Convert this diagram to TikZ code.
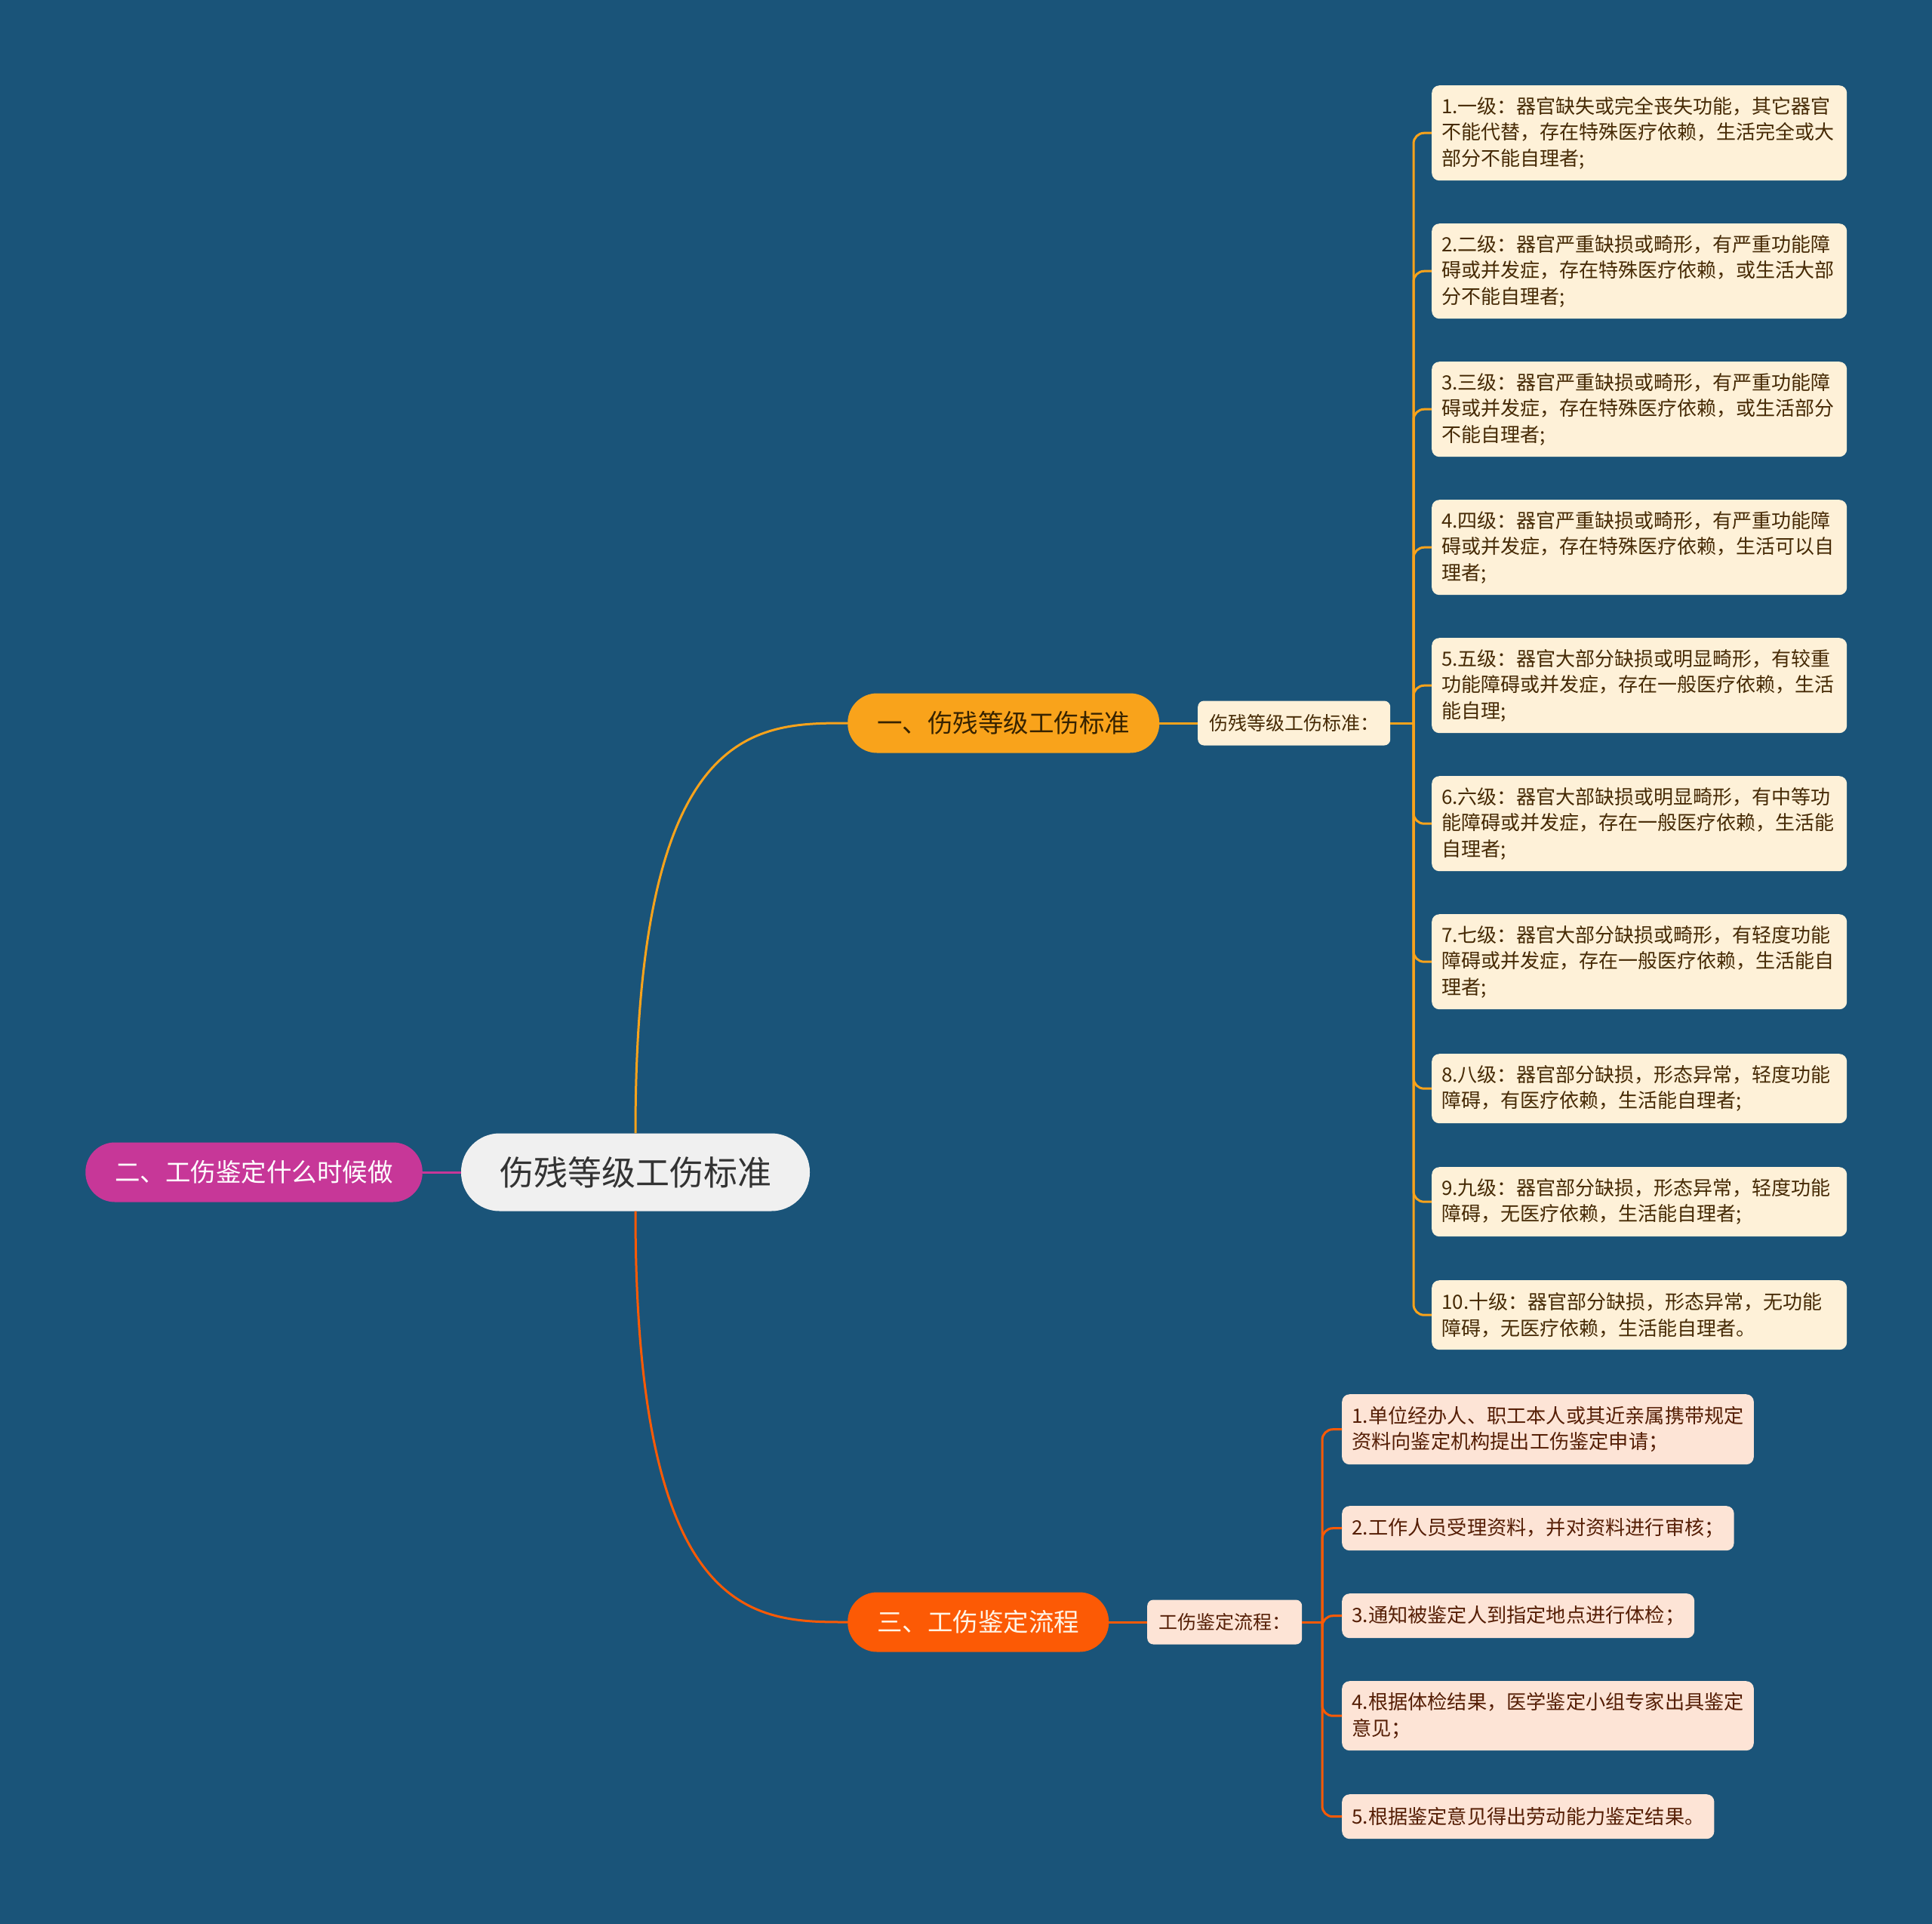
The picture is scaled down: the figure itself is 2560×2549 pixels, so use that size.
\documentclass[tikz,border=0pt]{standalone}
\usepackage{fontspec}
\setmainfont{Noto Sans CJK SC}
\definecolor{bg}{RGB}{26,84,121}
\definecolor{rootfill}{RGB}{240,240,240}
\definecolor{orA}{RGB}{249,163,27}
\definecolor{orB}{RGB}{252,90,5}
\definecolor{mag}{RGB}{199,55,152}
\definecolor{creamA}{RGB}{254,241,216}
\definecolor{peachB}{RGB}{253,228,214}
\definecolor{txtA}{RGB}{70,42,5}
\definecolor{txtB}{RGB}{85,30,5}
\definecolor{txtO}{RGB}{55,35,0}
\begin{document}
\begin{tikzpicture}[x=1pt,y=-1pt,
  rootbox/.style={fill=rootfill, rounded corners=51pt, minimum height=103pt, inner xsep=51pt, inner ysep=0pt, text=black!80, font=\fontsize{45}{54}\selectfont},
  branchbox/.style={rounded corners=39pt, minimum height=79pt, inner xsep=39pt, inner ysep=0pt, font=\fontsize{33.5}{40}\selectfont},
  subbox/.style={rounded corners=8pt, minimum height=59pt, inner xsep=15pt, inner ysep=0pt, anchor=west, font=\fontsize{25}{30}\selectfont},
  leafbox/.style={rounded corners=10pt, inner xsep=13pt, inner ysep=0pt, align=left, anchor=north west, font=\fontsize{26}{34.5}\selectfont},
  leafA/.style={leafbox, fill=creamA, text=txtA, text width=524pt},
  leafB/.style={leafbox, fill=peachB, text=txtB, font=\fontsize{26.2}{34.5}\selectfont},
  conn/.style={line width=3pt},
]
\useasboundingbox (0,0) rectangle (2560,2549);
\fill[bg] (0,0) rectangle (2560,2549);

% root and branches
\node[rootbox] (root) at (842,1553) {伤残等级工伤标准};
\node[branchbox, fill=orA, text=txtO, anchor=west] (b1) at (1123,958) {一、伤残等级工伤标准};
\node[branchbox, fill=mag, text=white, anchor=east] (b2) at (560,1553) {二、工伤鉴定什么时候做};
\node[branchbox, fill=orB, text={rgb,255:red,255;green,244;blue,230}, anchor=west] (b3) at (1123,2149) {三、工伤鉴定流程};

\node[subbox, fill=creamA, text=txtA] (s1) at (1587,958) {伤残等级工伤标准：};
\node[subbox, fill=peachB, text=txtB] (s3) at (1520,2149) {工伤鉴定流程：};

% leaves of branch 1
\node[leafA, minimum height=126pt] (a1) at (1897,113) {1.一级：器官缺失或完全丧失功能，其它器官\\不能代替，存在特殊医疗依赖，生活完全或大\\部分不能自理者;};
\node[leafA, minimum height=126pt] (a2) at (1897,296) {2.二级：器官严重缺损或畸形，有严重功能障\\碍或并发症，存在特殊医疗依赖，或生活大部\\分不能自理者;};
\node[leafA, minimum height=126pt] (a3) at (1897,479) {3.三级：器官严重缺损或畸形，有严重功能障\\碍或并发症，存在特殊医疗依赖，或生活部分\\不能自理者;};
\node[leafA, minimum height=126pt] (a4) at (1897,662) {4.四级：器官严重缺损或畸形，有严重功能障\\碍或并发症，存在特殊医疗依赖，生活可以自\\理者;};
\node[leafA, minimum height=126pt] (a5) at (1897,845) {5.五级：器官大部分缺损或明显畸形，有较重\\功能障碍或并发症，存在一般医疗依赖，生活\\能自理;};
\node[leafA, minimum height=126pt] (a6) at (1897,1028) {6.六级：器官大部缺损或明显畸形，有中等功\\能障碍或并发症，存在一般医疗依赖，生活能\\自理者;};
\node[leafA, minimum height=126pt] (a7) at (1897,1211) {7.七级：器官大部分缺损或畸形，有轻度功能\\障碍或并发症，存在一般医疗依赖，生活能自\\理者;};
\node[leafA, minimum height=92pt] (a8) at (1897,1396) {8.八级：器官部分缺损，形态异常，轻度功能\\障碍，有医疗依赖，生活能自理者;};
\node[leafA, minimum height=92pt] (a9) at (1897,1546) {9.九级：器官部分缺损，形态异常，轻度功能\\障碍，无医疗依赖，生活能自理者;};
\node[leafA, minimum height=92pt] (a10) at (1897,1696) {10.十级：器官部分缺损，形态异常，无功能\\障碍，无医疗依赖，生活能自理者。};

% leaves of branch 3
\node[leafB, minimum height=93pt] (c1) at (1778,1847) {1.单位经办人、职工本人或其近亲属携带规定\\资料向鉴定机构提出工伤鉴定申请；};
\node[leafB, minimum height=59pt] (c2) at (1778,1995) {2.工作人员受理资料，并对资料进行审核；};
\node[leafB, minimum height=59pt] (c3) at (1778,2111) {3.通知被鉴定人到指定地点进行体检；};
\node[leafB, minimum height=92pt] (c4) at (1778,2227) {4.根据体检结果，医学鉴定小组专家出具鉴定\\意见；};
\node[leafB, minimum height=59pt] (c5) at (1778,2377) {5.根据鉴定意见得出劳动能力鉴定结果。};

% connectors
\draw[conn, orA] (root.north) .. controls (842,958) and (1000,958) .. (b1.west);
\draw[conn, orB] (root.south) .. controls (842,2149) and (1000,2149) .. (b3.west);
\draw[conn, mag] (root.west) -- (b2.east);
\draw[conn, orA] (b1.east) -- (s1.west);
\draw[conn, orB] (b3.east) -- (s3.west);

\coordinate (sp1) at (1873,958);
\coordinate (sp3) at (1752,2149);
\draw[conn, orA] (s1.east) -- (sp1);
\draw[conn, orB] (s3.east) -- (sp3);
\foreach \i in {1,...,10} {
  \draw[conn, orA, rounded corners=14pt] (sp1) |- (a\i.west);
}
\foreach \i in {1,...,5} {
  \draw[conn, orB, rounded corners=14pt] (sp3) |- (c\i.west);
}
\end{tikzpicture}
\end{document}
